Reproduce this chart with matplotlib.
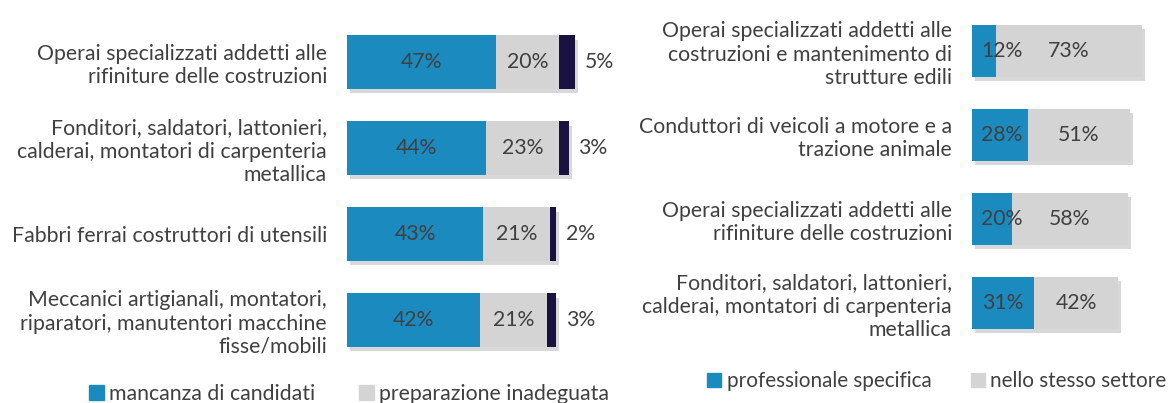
import numpy as np
import matplotlib
matplotlib.use('Agg')
import matplotlib.pyplot as plt
from matplotlib.patches import Patch
import matplotlib.patheffects as pe

plt.rcParams['font.family'] = ['Lato', 'DejaVu Sans']

# left panel data
left_cats = ['Operai specializzati addetti alle\nrifiniture delle costruzioni',
             'Fonditori, saldatori, lattonieri,\ncalderai, montatori di carpenteria\nmetallica',
             'Fabbri ferrai costruttori di utensili',
             'Meccanici artigianali, montatori,\nriparatori, manutentori macchine\nfisse/mobili']
left_a = [47, 44, 43, 42]
left_b = [20, 23, 21, 21]
left_c = [5, 3, 2, 3]
left_legend = ['mancanza di candidati', 'preparazione inadeguata']

# right panel data
right_cats = ['Operai specializzati addetti alle\ncostruzioni e mantenimento di\nstrutture edili',
              'Conduttori di veicoli a motore e a\ntrazione animale',
              'Operai specializzati addetti alle\nrifiniture delle costruzioni',
              'Fonditori, saldatori, lattonieri,\ncalderai, montatori di carpenteria\nmetallica']
right_a = [12, 28, 20, 31]
right_b = [73, 51, 58, 42]
right_legend = ['professionale specifica', 'nello stesso settore']

BLUE = '#1a8abf'
GRAY = '#d4d4d4'
NAVY = '#1a1240'
TXT = '#404040'
FS = 15.3

W, H = 1173, 403
fig = plt.figure(figsize=(W / 100, H / 100), dpi=100)

shadow = [pe.SimplePatchShadow(offset=(2, -3), shadow_rgbFace='#666666', alpha=0.25), pe.Normal()]


def setup(ax, cats):
    ax.set_xlim(0, 100)
    ax.set_ylim(3.5, -0.5)
    ax.set_yticks(range(len(cats)))
    ax.set_yticklabels(cats, fontsize=FS, color=TXT, linespacing=1.2)
    ax.tick_params(axis='y', length=0, pad=14.4)
    ax.set_xticks([])
    for s in ax.spines.values():
        s.set_visible(False)
    ax.patch.set_alpha(0)


# left
axl = fig.add_axes([347 / W, 1 - 363 / H, 317 / W, 344 / H])
setup(axl, left_cats)
y = np.arange(len(left_cats))
bh = 0.62
ba = axl.barh(y, left_a, height=bh, color=BLUE)
bb = axl.barh(y, left_b, left=left_a, height=bh, color=GRAY)
bc = axl.barh(y, left_c, left=np.add(left_a, left_b), height=bh, color=NAVY)
for b in list(ba) + list(bb) + list(bc):
    b.set_path_effects(shadow)
for i in range(len(y)):
    axl.text(left_a[i] / 2, y[i], f'{left_a[i]}%', ha='center', va='center', fontsize=FS, color=TXT)
    axl.text(left_a[i] + left_b[i] / 2, y[i], f'{left_b[i]}%', ha='center', va='center', fontsize=FS, color=TXT)
    axl.text(left_a[i] + left_b[i] + left_c[i] + 3, y[i], f'{left_c[i]}%', ha='left', va='center',
             fontsize=FS, color=TXT)

# right
axr = fig.add_axes([972 / W, 1 - 345 / H, 200 / W, 336 / H])
setup(axr, right_cats)
y = np.arange(len(right_cats))
ra = axr.barh(y, right_a, height=bh, color=BLUE)
rb = axr.barh(y, right_b, left=right_a, height=bh, color=GRAY)
for b in list(ra) + list(rb):
    b.set_path_effects(shadow)
for i in range(len(y)):
    axr.text(max(right_a[i] / 2, 15), y[i], f'{right_a[i]}%', ha='center', va='center', fontsize=FS, color=TXT)
    axr.text(right_a[i] + right_b[i] / 2, y[i], f'{right_b[i]}%', ha='center', va='center', fontsize=FS, color=TXT)

# legends
fig.legend([Patch(color=BLUE), Patch(color=GRAY)], left_legend, loc='center left',
           bbox_to_anchor=(89 / W, 1 - 394 / H), frameon=False, ncol=2, fontsize=FS,
           handlelength=0.7, handleheight=0.7, handletextpad=0.25, columnspacing=2.05,
           borderpad=0, borderaxespad=0, labelcolor=TXT)
fig.legend([Patch(color=BLUE), Patch(color=GRAY)], right_legend, loc='center left',
           bbox_to_anchor=(707 / W, 1 - 381 / H), frameon=False, ncol=2, fontsize=14.9,
           handlelength=0.7, handleheight=0.7, handletextpad=0.25, columnspacing=1.9,
           borderpad=0, borderaxespad=0, labelcolor=TXT)

fig.savefig('out.png', dpi=100)
